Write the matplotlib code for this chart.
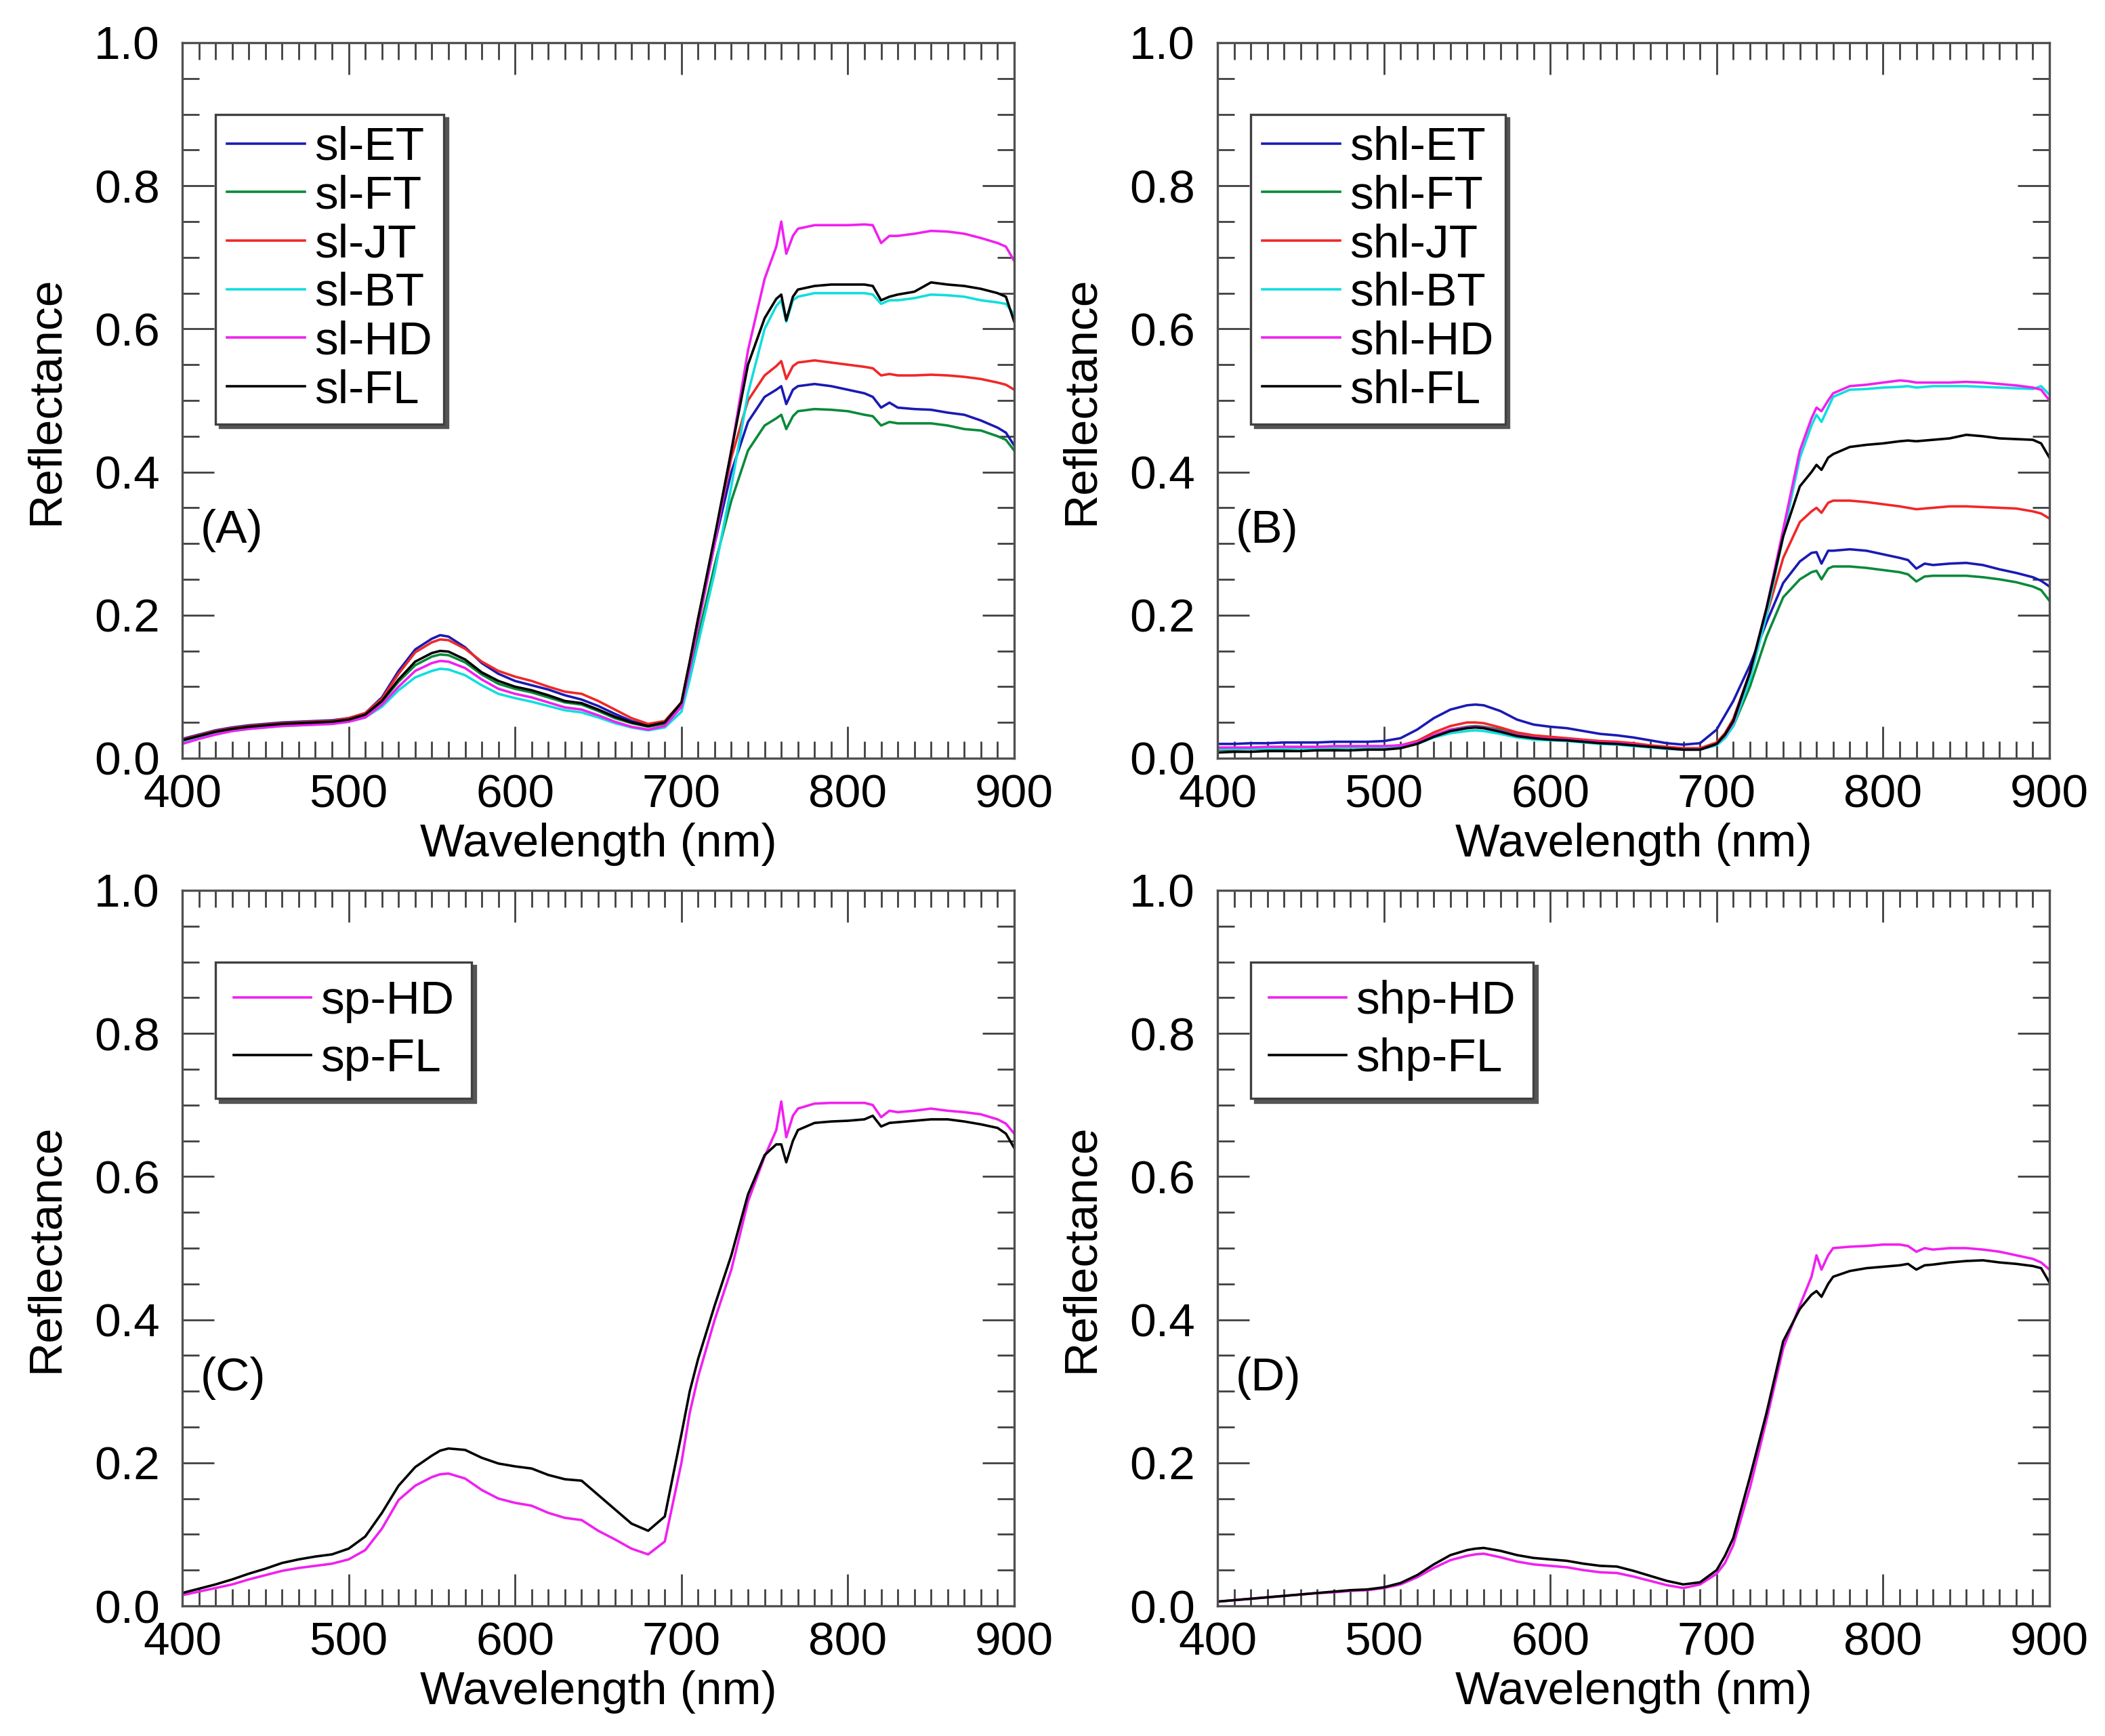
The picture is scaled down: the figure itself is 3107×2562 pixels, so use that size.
import matplotlib
matplotlib.use("Agg")
import matplotlib.pyplot as plt
from matplotlib.ticker import MultipleLocator

plt.rcParams['font.family'] = ['Liberation Sans', 'DejaVu Sans']

WL = [400,410,420,430,440,450,460,470,480,490,500,510,520,530,540,550,555,560,570,580,590,600,
      610,620,630,640,650,660,670,680,690,700,705,710,720,730,740,750,757,760,763,767,770,780,
      790,800,810,815,820,825,830,840,850,860,870,880,890,895,900]

A_ET = [0.027,0.033,0.039,0.043,0.046,0.048,0.050,0.051,0.052,0.053,0.056,
        0.063,0.085,0.122,0.152,0.167,0.172,
        0.170,0.155,0.133,0.118,0.108,0.102,0.096,0.088,0.082,0.073,0.062,0.052,0.046,0.050,0.075,
        0.13,0.19,0.30,0.40,0.47,0.505,
        0.515,0.52,0.495,0.515,0.52,0.523,0.52,0.515,0.51,0.505,0.49,0.497,0.49,
        0.488,0.487,0.483,0.48,0.472,0.462,0.455,0.437]
A_FT = [0.025,0.031,0.037,0.041,0.044,0.046,0.048,0.049,0.050,0.051,0.054,
        0.060,0.079,0.107,0.130,0.142,0.145,
        0.144,0.134,0.117,0.104,0.097,0.092,0.085,0.078,0.075,0.066,0.056,0.049,0.044,0.048,0.072,
        0.12,0.17,0.27,0.36,0.43,0.465,
        0.475,0.48,0.46,0.478,0.485,0.488,0.487,0.485,0.48,0.478,0.465,0.47,0.468,
        0.468,0.468,0.465,0.46,0.458,0.45,0.445,0.43]
A_JT = [0.026,0.032,0.038,0.042,0.045,0.047,0.049,0.050,0.051,0.052,0.056,
        0.063,0.083,0.118,0.148,0.162,0.166,
        0.165,0.153,0.135,0.122,0.114,0.108,0.100,0.093,0.090,0.080,0.068,0.056,0.048,0.052,0.078,
        0.135,0.195,0.305,0.42,0.50,0.535,
        0.548,0.555,0.53,0.548,0.553,0.556,0.553,0.55,0.547,0.545,0.535,0.537,0.535,
        0.535,0.536,0.535,0.533,0.53,0.525,0.522,0.515]
A_BT = [0.022,0.028,0.034,0.038,0.041,0.043,0.045,0.046,0.047,0.048,0.051,
        0.057,0.072,0.095,0.113,0.122,0.125,
        0.124,0.116,0.102,0.090,0.084,0.079,0.073,0.067,0.064,0.057,0.049,0.043,0.039,0.043,0.065,
        0.11,0.16,0.26,0.38,0.51,0.60,
        0.632,0.64,0.61,0.64,0.645,0.65,0.65,0.65,0.65,0.648,0.635,0.64,0.64,
        0.643,0.648,0.647,0.645,0.64,0.637,0.635,0.62]
A_HD = [0.020,0.027,0.033,0.038,0.041,0.043,0.045,0.046,0.047,0.048,0.051,
        0.057,0.075,0.100,0.122,0.133,0.136,
        0.135,0.126,0.110,0.097,0.090,0.085,0.078,0.071,0.068,0.060,0.051,0.044,0.040,0.045,0.072,
        0.125,0.185,0.30,0.43,0.57,0.67,
        0.715,0.75,0.705,0.73,0.74,0.745,0.745,0.745,0.746,0.745,0.72,0.73,0.73,
        0.733,0.737,0.736,0.733,0.727,0.72,0.715,0.695]
A_FL = [0.025,0.031,0.037,0.041,0.044,0.046,0.048,0.049,0.050,0.051,0.054,
        0.061,0.080,0.110,0.135,0.147,0.150,
        0.149,0.138,0.120,0.108,0.100,0.095,0.088,0.080,0.077,0.068,0.058,0.050,0.045,0.050,0.078,
        0.135,0.195,0.31,0.43,0.55,0.615,
        0.642,0.648,0.612,0.645,0.655,0.66,0.662,0.662,0.662,0.66,0.64,0.645,0.648,
        0.652,0.665,0.662,0.66,0.656,0.65,0.645,0.61]

B_ET = [0.020,0.020,0.021,0.021,0.022,0.022,0.022,0.023,0.023,0.023,0.024,
        0.028,0.040,0.056,0.068,0.074,0.075,
        0.074,0.066,0.054,0.047,0.044,0.042,0.038,0.034,0.032,0.029,0.025,0.021,0.019,0.021,0.040,
        0.060,0.08,0.13,0.19,0.245,0.275,
        0.287,0.288,0.272,0.29,0.29,0.292,0.29,0.285,0.28,0.277,0.265,0.272,0.27,
        0.272,0.273,0.27,0.264,0.259,0.253,0.248,0.24]
B_FT = [0.012,0.012,0.013,0.013,0.013,0.014,0.014,0.014,0.015,0.015,0.015,
        0.017,0.022,0.032,0.040,0.044,0.045,
        0.044,0.040,0.033,0.029,0.027,0.026,0.024,0.022,0.021,0.019,0.017,0.015,0.013,0.013,0.020,
        0.030,0.045,0.10,0.17,0.225,0.25,
        0.26,0.262,0.25,0.265,0.268,0.268,0.266,0.263,0.26,0.257,0.247,0.254,0.255,
        0.255,0.255,0.253,0.25,0.246,0.24,0.235,0.22]
B_JT = [0.013,0.013,0.014,0.014,0.014,0.015,0.015,0.015,0.016,0.016,0.016,
        0.018,0.024,0.036,0.045,0.050,0.050,
        0.049,0.043,0.036,0.032,0.030,0.028,0.026,0.024,0.023,0.021,0.018,0.016,0.014,0.014,0.022,
        0.035,0.055,0.12,0.20,0.28,0.33,
        0.345,0.35,0.343,0.357,0.36,0.36,0.358,0.355,0.352,0.35,0.348,0.349,0.35,
        0.352,0.352,0.351,0.35,0.349,0.345,0.342,0.335]
B_BT = [0.013,0.013,0.013,0.014,0.014,0.014,0.014,0.015,0.015,0.015,0.015,
        0.016,0.020,0.029,0.035,0.038,0.039,
        0.038,0.034,0.029,0.026,0.025,0.024,0.022,0.020,0.019,0.017,0.015,0.013,0.012,0.012,0.018,
        0.028,0.045,0.11,0.20,0.31,0.42,
        0.465,0.48,0.47,0.49,0.505,0.515,0.516,0.518,0.519,0.52,0.518,0.519,0.52,
        0.52,0.52,0.519,0.518,0.517,0.516,0.52,0.508]
B_HD = [0.015,0.015,0.015,0.016,0.016,0.016,0.016,0.017,0.017,0.017,0.017,
        0.018,0.022,0.032,0.040,0.043,0.044,
        0.043,0.038,0.032,0.029,0.027,0.026,0.024,0.022,0.021,0.019,0.016,0.014,0.012,0.012,0.020,
        0.032,0.05,0.12,0.21,0.32,0.43,
        0.475,0.49,0.485,0.50,0.51,0.52,0.522,0.525,0.528,0.527,0.525,0.525,0.525,
        0.525,0.526,0.525,0.523,0.521,0.518,0.515,0.50]
B_FL = [0.008,0.009,0.009,0.010,0.010,0.010,0.011,0.011,0.011,0.012,0.012,
        0.014,0.020,0.030,0.038,0.042,0.043,
        0.042,0.037,0.031,0.028,0.026,0.025,0.023,0.021,0.020,0.018,0.016,0.014,0.012,0.012,0.020,
        0.033,0.052,0.12,0.21,0.31,0.38,
        0.40,0.41,0.403,0.42,0.425,0.435,0.438,0.44,0.443,0.444,0.443,0.444,0.445,
        0.447,0.452,0.45,0.447,0.446,0.445,0.44,0.42]

C_HD = [0.015,0.020,0.025,0.030,0.037,0.043,0.049,0.053,0.056,0.059,0.065,
        0.078,0.108,0.148,0.168,0.180,0.184,
        0.185,0.178,0.162,0.150,0.144,0.140,0.130,0.123,0.120,0.105,0.093,0.080,0.072,0.090,0.20,
        0.27,0.32,0.40,0.47,0.565,0.628,
        0.665,0.705,0.655,0.685,0.695,0.702,0.703,0.703,0.703,0.70,0.683,0.692,0.69,
        0.692,0.695,0.692,0.69,0.687,0.68,0.674,0.66]
C_FL = [0.018,0.024,0.030,0.037,0.045,0.052,0.060,0.065,0.069,0.072,0.080,
        0.097,0.130,0.168,0.194,0.210,0.217,
        0.220,0.218,0.207,0.199,0.195,0.192,0.183,0.177,0.175,0.155,0.135,0.115,0.105,0.125,0.24,
        0.30,0.345,0.42,0.49,0.575,0.63,
        0.645,0.645,0.62,0.65,0.665,0.675,0.677,0.678,0.68,0.685,0.67,0.675,0.676,
        0.678,0.68,0.68,0.677,0.673,0.668,0.66,0.64]

D_HD = [0.006,0.008,0.010,0.012,0.014,0.016,0.018,0.019,0.021,0.022,0.025,
        0.030,0.040,0.053,0.064,0.070,0.072,
        0.073,0.068,0.062,0.058,0.056,0.054,0.050,0.047,0.046,0.041,0.035,0.029,0.025,0.030,0.045,
        0.06,0.085,0.165,0.26,0.36,0.42,
        0.46,0.49,0.47,0.49,0.50,0.502,0.503,0.505,0.505,0.503,0.495,0.50,0.498,
        0.50,0.50,0.498,0.495,0.49,0.485,0.48,0.47]
D_FL = [0.006,0.008,0.010,0.012,0.014,0.016,0.018,0.020,0.022,0.023,0.026,
        0.032,0.043,0.058,0.071,0.078,0.080,
        0.081,0.077,0.071,0.067,0.065,0.063,0.059,0.056,0.055,0.049,0.042,0.035,0.030,0.033,0.050,
        0.07,0.095,0.18,0.27,0.37,0.415,
        0.435,0.44,0.432,0.45,0.46,0.468,0.472,0.474,0.476,0.478,0.47,0.476,0.477,
        0.48,0.482,0.483,0.48,0.478,0.475,0.472,0.452]

C_BLUE = '#1a1ab4'
C_GREEN = '#0a8a3a'
C_RED = '#f02828'
C_CYAN = '#10dede'
C_MAG = '#f020f0'
C_BLACK = '#000000'

panels = [
    ('(A)', [('sl-ET', A_ET, C_BLUE), ('sl-FT', A_FT, C_GREEN), ('sl-JT', A_JT, C_RED),
             ('sl-BT', A_BT, C_CYAN), ('sl-HD', A_HD, C_MAG), ('sl-FL', A_FL, C_BLACK)]),
    ('(B)', [('shl-ET', B_ET, C_BLUE), ('shl-FT', B_FT, C_GREEN), ('shl-JT', B_JT, C_RED),
             ('shl-BT', B_BT, C_CYAN), ('shl-HD', B_HD, C_MAG), ('shl-FL', B_FL, C_BLACK)]),
    ('(C)', [('sp-HD', C_HD, C_MAG), ('sp-FL', C_FL, C_BLACK)]),
    ('(D)', [('shp-HD', D_HD, C_MAG), ('shp-FL', D_FL, C_BLACK)]),
]

W, H = 3107, 2562
fig = plt.figure(figsize=(W/200, H/200), dpi=200)
lefts = [269, 1797, 269, 1797]
tops = [63, 63, 1314, 1314]
aw, ah = 1228, 1056

FS = 25
for (lab, series), l, t in zip(panels, lefts, tops):
    ax = fig.add_axes([l/W, 1-(t+ah)/H, aw/W, ah/H])
    for name, vals, col in series:
        ax.plot(WL, vals, color=col, lw=1.3, label=name)
    ax.set_xlim(400, 900)
    ax.set_ylim(0, 1.0)
    ax.xaxis.set_major_locator(MultipleLocator(100))
    ax.xaxis.set_minor_locator(MultipleLocator(10))
    ax.yaxis.set_major_locator(MultipleLocator(0.2))
    ax.yaxis.set_minor_locator(MultipleLocator(0.05))
    ax.yaxis.set_major_formatter(matplotlib.ticker.FormatStrFormatter('%.1f'))
    ax.tick_params(which='both', direction='in', top=True, right=True, colors='#404040',
                   labelcolor='black', labelsize=FS)
    ax.tick_params(which='major', length=17, width=1.0)
    ax.tick_params(which='minor', length=9, width=1.0)
    ax.tick_params(axis='x', which='major', pad=8)
    ax.tick_params(axis='y', which='major', pad=12)
    for s in ax.spines.values():
        s.set_color('#505050')
        s.set_linewidth(1.2)
    ax.set_xlabel('Wavelength (nm)', fontsize=FS, labelpad=3)
    ax.set_ylabel('Reflectance', fontsize=FS, labelpad=14)
    ax.text(411, 0.318, lab, fontsize=FS, ha='left', va='center')
    few = len(series) <= 2
    leg = ax.legend(loc='upper left', bbox_to_anchor=(0.04, 0.90), borderaxespad=0,
                    fontsize=FS, handlelength=1.65, handletextpad=0.2,
                    labelspacing=0.3 if few else 0.11,
                    borderpad=0.38 if few else 0.25,
                    fancybox=False, shadow={'color': '#555555', 'alpha': 1.0},
                    framealpha=1.0)
    leg.get_frame().set_edgecolor('#404040')
    leg.get_frame().set_linewidth(1.2)
    for ln in leg.get_lines():
        ln.set_linewidth(1.3)

fig.savefig('out.png', dpi=200)
